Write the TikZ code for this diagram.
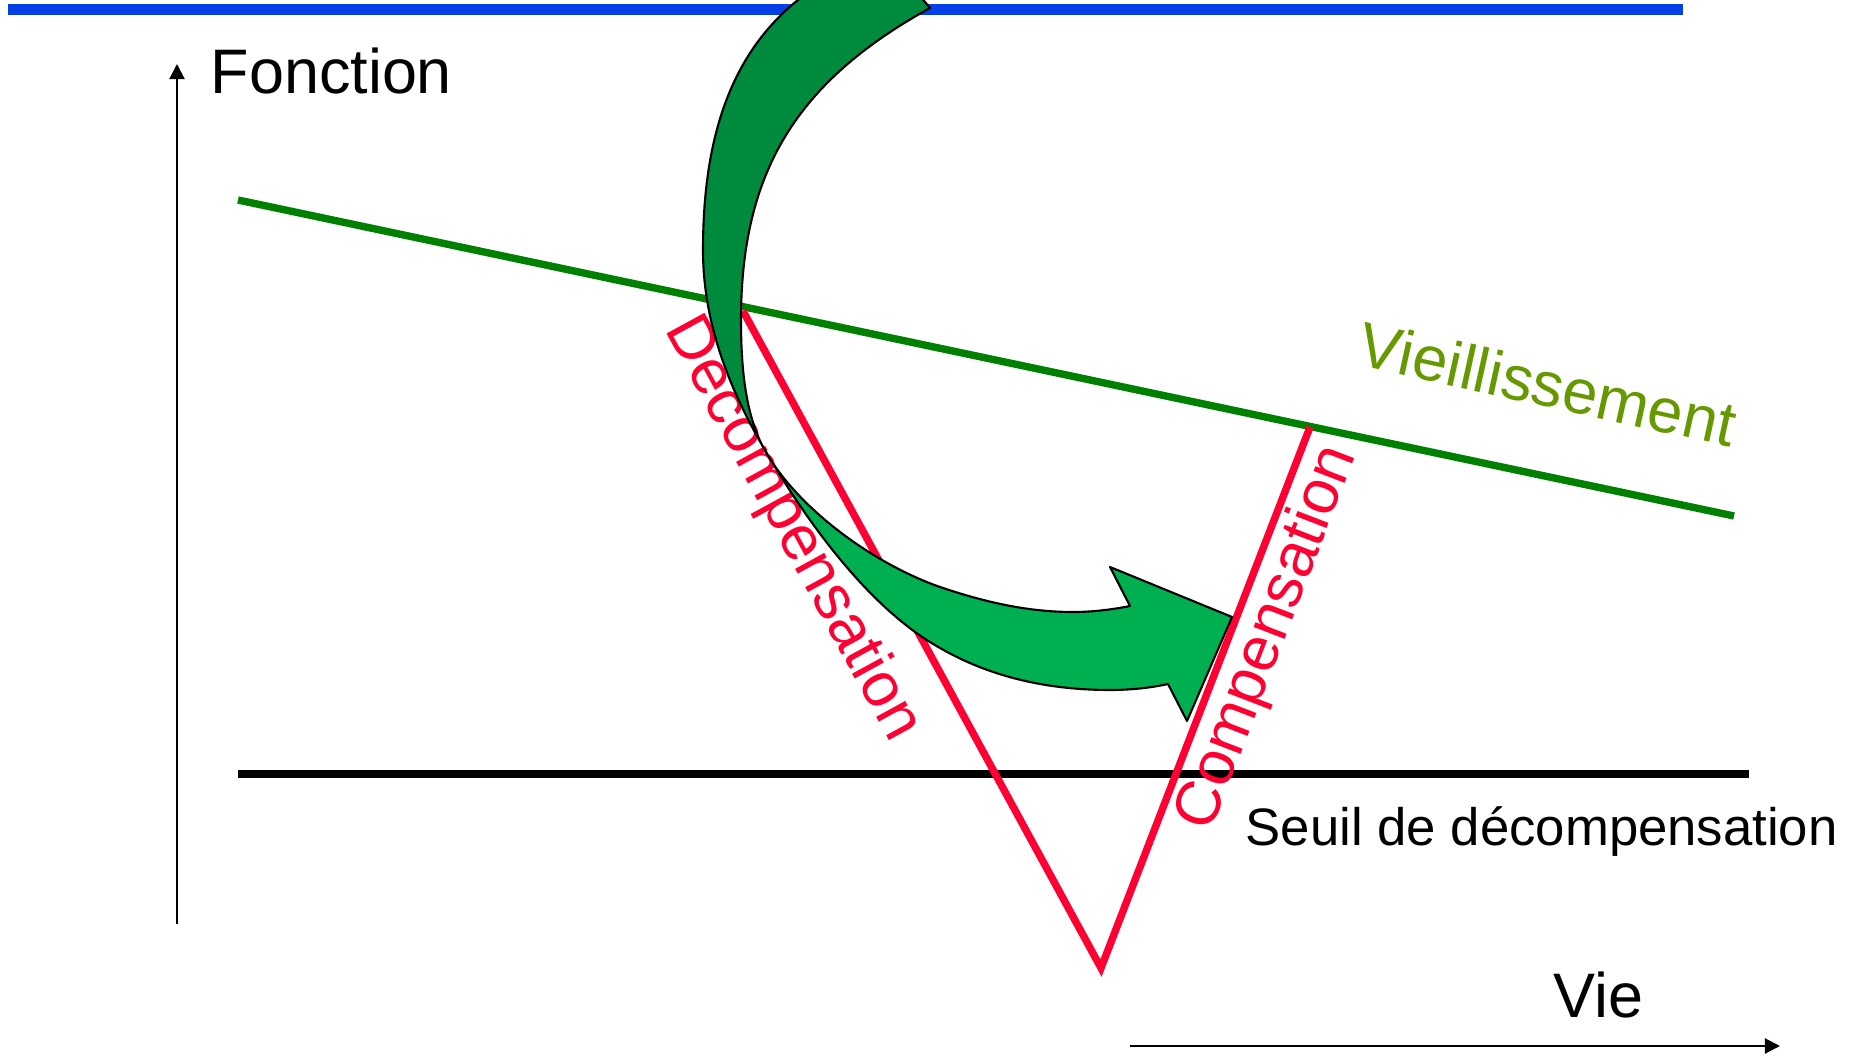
\documentclass[tikz,border=0pt]{standalone}
\usepackage{fontspec}
\setmainfont{Liberation Sans}
\usetikzlibrary{arrows.meta}
\definecolor{bandblue}{RGB}{5,64,230}
\definecolor{agegreen}{RGB}{0,128,0}
\definecolor{agetext}{RGB}{102,153,0}
\definecolor{compred}{RGB}{255,0,51}
\definecolor{backgreen}{RGB}{0,138,62}
\definecolor{frontgreen}{RGB}{0,176,80}

\begin{document}
\begin{tikzpicture}[
		big/.style={font=\fontsize{17.9}{20}\selectfont, inner sep=0pt},
		axis/.style={line width=0.6pt, -{Triangle[width=4.3pt,length=4.3pt]}},
		ribbon/.style={draw=black, line width=0.6pt, line join=round}
	]
		\useasboundingbox (0,0) rectangle (18.56,10.56);
		% end points
		\coordinate (bandL) at (0.08,10.465);
		\coordinate (bandR) at (16.83,10.465);
		\coordinate (yfoot) at (1.77,1.32);
		\coordinate (ytip) at (1.77,9.92);
		\coordinate (xfoot) at (11.30,0.10);
		\coordinate (xtip) at (17.80,0.10);
		\coordinate (ageL) at (2.38,8.56);
		\coordinate (ageR) at (17.34,5.40);
		\coordinate (seuilL) at (2.38,2.82);
		\coordinate (seuilR) at (17.49,2.82);
		\coordinate (vA) at (7.43,7.45);
		\coordinate (vB) at (11.01,0.88);
		\coordinate (vC) at (13.10,6.29);
		% lines
		\draw[bandblue, line width=3.1pt] (bandL) -- (bandR);
		\draw[axis] (yfoot) -- (ytip);
		\draw[axis] (xfoot) -- (xtip);
		\draw[agegreen, line width=2.1pt] (ageL) -- (ageR);
		\draw[black, line width=2.3pt] (seuilL) -- (seuilR);
		\draw[compred, line width=2.1pt, line join=miter] (vA) -- (vB) -- (vC);
		% labels
		\node[big, anchor=base west] (fonction) at (2.10,9.62) {Fonction};
		\node[big, anchor=base west] (vie) at (15.53,0.39) {Vie};
		\node[font=\fontsize{15}{18}\selectfont, inner sep=0pt, anchor=base west] (seuil) at (12.45,2.11) {Seuil de décompensation};
		\node[big, text=agetext, rotate=-12.4] (vieil) at (15.48,6.72) {Vieillissement};
		\node[big, text=compred, rotate=-61.3] (decomp) at (7.92,5.27) {Decompensation};
		\node[big, text=compred, rotate=68.9] (comp) at (12.68,4.18) {Compensation};
		% curved arrow, back face then front face
		\coordinate (twist) at (7.62,6.11);
		\begin{scope}
			\clip (0,0) rectangle (18.56,10.56);
			\filldraw[ribbon, fill=backgreen] (twist)
				.. controls (7.27,6.72) and (7.03,7.36) .. (7.03,8.06)
				.. controls (7.03,9.13) and (7.28,10.00) .. (7.98,10.56)
				-- (8.38,10.88) -- (9.00,10.84) -- (9.30,10.48)
				.. controls (7.98,9.75) and (7.41,8.86) .. (7.41,7.36)
				.. controls (7.41,6.95) and (7.44,6.47) .. (twist) -- cycle;
			\filldraw[ribbon, fill=frontgreen] (twist)
				.. controls (8.07,5.33) and (8.70,4.47) .. (9.40,4.08)
				.. controls (9.92,3.78) and (10.50,3.66) .. (11.10,3.66)
				.. controls (11.30,3.66) and (11.50,3.68) .. (11.68,3.72)
				-- (11.87,3.35) -- (12.32,4.39) -- (11.10,4.89) -- (11.30,4.50)
				.. controls (11.15,4.47) and (10.95,4.44) .. (10.73,4.44)
				.. controls (10.30,4.44) and (9.87,4.53) .. (9.40,4.69)
				.. controls (8.74,4.92) and (7.94,5.49) .. (twist) -- cycle;
		\end{scope}
\end{tikzpicture}
\end{document}
